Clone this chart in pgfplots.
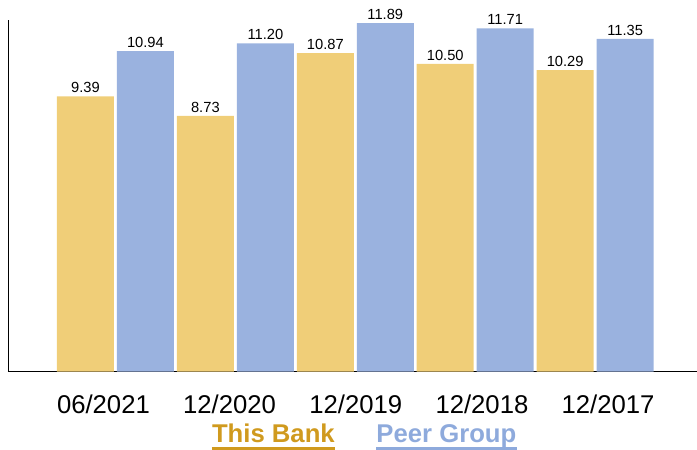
\documentclass[border=0pt]{standalone}
\usepackage{pgfplots}
\pgfplotsset{compat=1.18}
\usepackage{fontspec}
\setmainfont{Liberation Sans}
\definecolor{bankbar}{RGB}{240,206,120}
\definecolor{peerbar}{RGB}{154,178,223}
\definecolor{banktxt}{RGB}{208,154,30}
\definecolor{peertxt}{RGB}{142,170,220}
\begin{document}
\begin{tikzpicture}
\begin{axis}[
 scale only axis, width=689pt, height=352pt,
 xmin=-0.896, xmax=4.846, ymin=0, ymax=12,
 axis x line=bottom, axis y line=left,
 axis line style={-, line width=0.8pt, black},
 ytick=\empty,
 xtick={-0.1,0.952,2.004,3.056,4.108},
 xticklabels={06/2021,12/2020,12/2019,12/2018,12/2017},
 major tick length=0pt,
 xticklabel style={font=\fontsize{25.7}{30}\selectfont, anchor=base, yshift=-42pt},
 ybar, bar width=57pt,
 /pgf/number format/assume math mode=true,
 nodes near coords={\pgfmathprintnumber[fixed,fixed zerofill,precision=2]{\pgfplotspointmeta}},
 every node near coord/.append style={font=\fontsize{14.7}{17}\selectfont, text=black},
 clip=false,
]
\addplot[fill=bankbar, draw=none, bar shift=-30pt] coordinates {(0,9.39) (1,8.73) (2,10.87) (3,10.50) (4,10.29)};
\addplot[fill=peerbar, draw=none, bar shift=30pt] coordinates {(0,10.94) (1,11.20) (2,11.89) (3,11.71) (4,11.35)};
\node[anchor=base, font=\fontsize{25.7}{30}\selectfont\bfseries, text=banktxt, inner sep=0] (lb) at (axis cs:1.317,-2.42) {This Bank};
\draw[banktxt, line width=3pt] ([yshift=-5.5pt]lb.base west) -- ([yshift=-5.5pt]lb.base east);
\node[anchor=base, font=\fontsize{25.7}{30}\selectfont\bfseries, text=peertxt, inner sep=0] (lp) at (axis cs:2.76,-2.42) {Peer Group};
\draw[peertxt, line width=3pt] ([yshift=-5.5pt]lp.base west) -- ([yshift=-5.5pt]lp.base east);
\path (axis cs:-0.9625,-2.659) rectangle (axis cs:4.846,12.68);
\end{axis}
\end{tikzpicture}
\end{document}
